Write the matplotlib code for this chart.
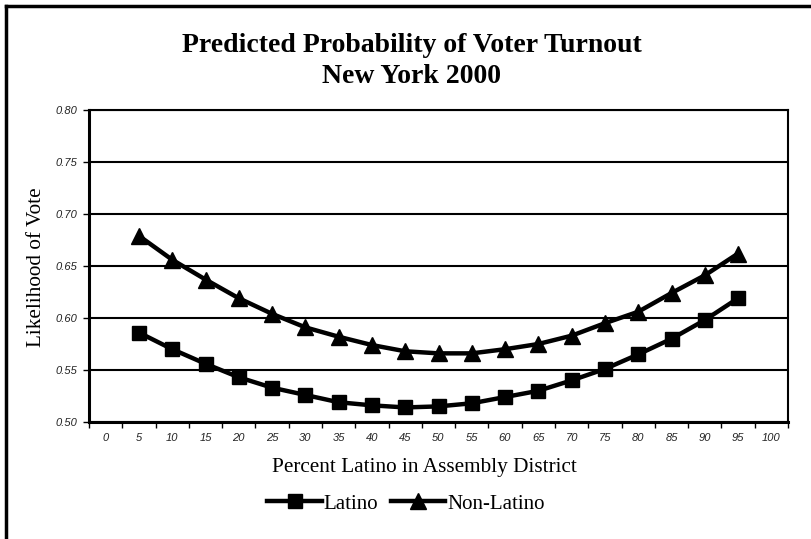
import matplotlib
matplotlib.use('Agg')
import matplotlib.pyplot as plt
from matplotlib.lines import Line2D
from matplotlib.ticker import MultipleLocator, FormatStrFormatter

plt.rcParams['font.family'] = 'serif'
plt.rcParams['font.serif'] = ['Liberation Serif', 'DejaVu Serif']

# data
pct_latino = [5, 10, 15, 20, 25, 30, 35, 40, 45, 50, 55, 60, 65, 70, 75, 80, 85, 90, 95]
latino = [0.586, 0.570, 0.556, 0.543, 0.533, 0.526, 0.519, 0.516, 0.514, 0.515,
          0.518, 0.524, 0.530, 0.540, 0.551, 0.565, 0.580, 0.598, 0.619]
non_latino = [0.679, 0.656, 0.637, 0.619, 0.604, 0.591, 0.582, 0.574, 0.568, 0.566,
              0.566, 0.570, 0.575, 0.583, 0.595, 0.606, 0.624, 0.641, 0.662]
x_ticks = list(range(0, 105, 5))

fig = plt.figure(figsize=(8.11, 5.39), dpi=100)
ax = fig.add_axes([89 / 811, 1 - 422 / 539, 699 / 811, 312 / 539])

ax.plot(pct_latino, latino, color='black', lw=3.2, marker='s', ms=10, label='Latino')
ax.plot(pct_latino, non_latino, color='black', lw=3.2, marker='^', ms=11, label='Non-Latino')

ax.set_xlim(-2.5, 102.5)
ax.set_ylim(0.50, 0.80)
ax.yaxis.set_major_locator(MultipleLocator(0.05))
ax.yaxis.set_major_formatter(FormatStrFormatter('%.2f'))
ax.grid(axis='y', color='black', lw=1.5)
ax.set_axisbelow(True)

ax.set_xticks(x_ticks)
ax.set_xticks([t - 2.5 for t in x_ticks] + [102.5], minor=True)
ax.tick_params(axis='x', which='major', length=0, pad=8)
ax.tick_params(axis='x', which='minor', length=4, width=1, direction='out')
ax.tick_params(axis='y', length=4, width=1, direction='out', pad=4)
for lab in ax.get_xticklabels() + ax.get_yticklabels():
    lab.set_family('Liberation Sans')
    lab.set_style('italic')
    lab.set_fontsize(8)
    lab.set_color('#222222')

for s in ax.spines.values():
    s.set_linewidth(1.5)
ax.spines['left'].set_linewidth(2.2)
ax.spines['bottom'].set_linewidth(2.2)

fig.text(37 / 811, 1 - 267 / 539, 'Likelihood of Vote', rotation=90, ha='center', va='center', fontsize=15.3)
fig.text(424 / 811, 1 - 472 / 539, 'Percent Latino in Assembly District', ha='center', va='baseline',
         fontsize=15.3)
fig.text(412 / 811, 1 - 52 / 539, 'Predicted Probability of Voter Turnout', ha='center', va='baseline',
         fontsize=20, fontweight='bold')
fig.text(412 / 811, 1 - 83 / 539, 'New York 2000', ha='center', va='baseline', fontsize=20, fontweight='bold')

handles = [Line2D([], [], color='black', lw=3.2, marker='s', ms=10),
           Line2D([], [], color='black', lw=3.2, marker='^', ms=11)]
fig.legend(handles, ['Latino', 'Non-Latino'], loc='center', bbox_to_anchor=(406 / 811, 1 - 504 / 539),
           ncol=2, frameon=False, fontsize=15, handlelength=2.6, handletextpad=0.1, columnspacing=0.6)

# outer border (only left and top visible in the reference)
fig.add_artist(Line2D([6 / 811, 6 / 811], [0, 1 - 6 / 539], transform=fig.transFigure, color='black', lw=2.5))
fig.add_artist(Line2D([6 / 811, 1], [1 - 6 / 539, 1 - 6 / 539], transform=fig.transFigure, color='black', lw=2.5))

fig.savefig('out.png', dpi=100)
